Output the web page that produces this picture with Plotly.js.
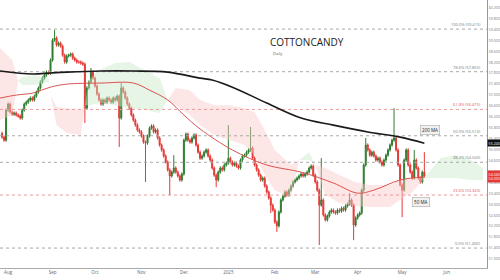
<!DOCTYPE html>
<html>
<head>
<meta charset="utf-8">
<script src="https://cdn.plot.ly/plotly-3.0.1.min.js"></script>
<style>html,body{margin:0;padding:0;background:#fff}#chart{width:500px;height:280px}</style>
</head>
<body>
<div id="chart"></div>
<script>
// ---- data ----
const firstOpen = 55.60;
const closes = [55.46,55.35,56.45,56.67,56.38,56.30,56.34,56.27,56.23,56.16,
56.45,56.67,56.74,56.82,56.89,56.82,56.96,57.11,57.26,57.48,
57.62,57.73,57.84,57.80,58.28,59.01,59.09,58.83,58.90,58.79,
58.46,58.21,58.43,58.46,58.50,58.35,58.28,58.21,58.21,58.17,
58.13,56.52,57.26,57.48,57.84,57.62,57.33,57.04,56.82,56.67,
56.82,56.74,56.89,56.82,56.74,56.89,56.82,56.96,56.16,57.26,
57.11,56.89,56.67,56.52,56.27,56.08,55.90,55.72,55.65,55.50,
55.28,55.24,55.50,55.79,55.87,55.65,55.72,55.43,55.17,54.99,
54.77,54.55,54.26,54.04,54.18,54.33,54.18,54.04,53.89,54.11,
55.35,55.57,55.35,55.28,55.43,55.54,55.17,54.91,54.69,54.77,
54.91,54.99,54.77,54.62,54.33,54.07,53.89,54.18,54.33,54.26,
54.44,54.51,54.69,54.55,54.44,54.51,54.40,54.33,54.62,54.77,
54.80,54.91,54.99,55.06,54.69,54.44,54.26,54.07,53.89,53.96,
53.67,53.45,53.23,52.97,52.79,52.35,52.21,52.72,53.16,53.30,
53.45,53.34,53.52,53.67,53.82,53.89,53.96,54.04,54.11,54.04,
54.11,54.18,54.33,54.40,54.07,53.82,53.52,52.97,53.16,52.61,
52.43,52.57,52.72,52.79,52.72,52.68,52.79,52.75,52.86,52.79,
52.94,53.01,53.16,52.97,52.24,52.50,52.61,52.68,53.52,54.44,
55.17,54.99,54.80,54.91,54.77,54.62,54.69,54.55,54.44,54.62,
54.80,54.99,55.17,55.35,55.43,54.99,54.44,53.71,53.52,54.62,
54.99,54.44,54.18,53.96,54.62,54.33,53.96,53.82,54.18,54.04];

const spikeHighIdx = [26,44,59,85,112,123,158,172,180,194,204,209];
const spikeHighVal = [59.38,57.99,57.44,54.80,55.90,55.83,54.69,53.41,55.43,56.52,54.99,54.91];
const spikeLowIdx = [41,58,71,83,106,133,136,157,174,198];
const spikeLowVal = [55.98,55.10,53.82,53.34,53.63,52.68,51.99,51.51,51.69,52.53];

const ma200Idx = [-1,15,24,32,49,65,82,98,104,114,131,148,164,181,197,209];
const ma200Val = [57.88,57.77,57.81,57.84,57.88,57.88,57.84,57.62,57.55,57.29,56.71,56.16,55.90,55.65,55.46,55.24];
const ma50Idx = [-1,7,15,24,32,49,65,73,82,90,98,114,131,148,164,176,184,197,209];
const ma50Val = [56.89,57.00,57.07,57.29,57.40,57.44,57.44,57.18,56.82,56.27,55.76,54.99,54.44,54.18,53.78,53.41,53.52,53.89,54.00];

const cloudIdx  = [-1,5,8,10,16,23,24,27,32,39,41,43,48,56,63,71,78,82,86,93,98,105,113,120,125,130,135,143,147,152,155,160,167,175,182,192,197,203,209,217,224,232,238];
const cloudTop  = [58.72,58.28,57.52,57.66,57.73,57.62,57.00,56.56,56.52,56.45,56.63,57.55,57.91,58.17,58.21,57.91,57.62,56.82,57.26,57.18,56.82,56.63,56.63,56.52,56.38,55.72,54.99,54.44,54.62,54.91,54.44,54.33,54.07,53.81,53.71,53.71,53.89,53.96,53.96,54.69,54.80,54.62,54.33];
const cloudBot  = [56.08,56.27,57.52,57.37,57.37,57.48,57.00,55.90,55.61,55.54,56.63,56.63,56.71,56.63,56.52,56.45,56.34,56.82,56.63,56.27,55.90,55.54,55.35,55.17,54.80,54.07,53.52,53.27,54.62,54.62,54.44,53.34,53.05,52.94,52.90,52.90,53.16,53.45,53.96,53.96,53.96,53.89,53.89];
const cloudSide = ['R','R','P','G','G','G','P','R','R','R','P','G','G','G','G','G','G','P','R','R','R','R','R','R','R','R','R','R','P','G','P','R','R','R','R','R','R','R','P','G','G','G','G'];

const fibPct = ['100.0%','78.6%','61.8%','50.0%','38.2%','23.6%','0.0%'];
const fibVal = [59.415,57.855,56.475,55.510,54.540,53.340,51.400];
const fibHot = [false,false,true,false,false,true,false];

const monthLabels = ['Aug','Sep','Oct','Nov','Dec','2025','Feb','Mar','Apr','May','Jun'];
const monthTicks = ['2024-08-01','2024-09-02','2024-10-01','2024-11-01','2024-12-02','2025-01-01','2025-02-03','2025-03-03','2025-04-01','2025-05-01','2025-06-02'];

const lastPrice = 54.04, lastMA50 = 54.00, lastMA200 = 55.24;

// ---- helpers ----
function tdate(i){
  const d = new Date(Date.UTC(2024,6,29));
  const step = i >= 0 ? 1 : -1;
  let n = Math.abs(i);
  while(n > 0){
    d.setUTCDate(d.getUTCDate()+step);
    const w = d.getUTCDay();
    if(w !== 0 && w !== 6) n--;
  }
  return d.toISOString().slice(0,10);
}

const dates = closes.map((_,i)=>tdate(i));
const opens = closes.map((c,i)=> i===0 ? firstOpen : closes[i-1]);
const wick = 0.06;
const highs = closes.map((c,i)=> Math.max(c,opens[i]) + wick);
const lows  = closes.map((c,i)=> Math.min(c,opens[i]) - wick);
spikeHighIdx.forEach((k,j)=>{ highs[k] = spikeHighVal[j]; });
spikeLowIdx.forEach((k,j)=>{ lows[k] = spikeLowVal[j]; });

const traces = [];

// cloud polygons
const segColor = k => cloudSide[k] !== 'P' ? cloudSide[k] : cloudSide[k+1];
let k = 0;
while(k < cloudIdx.length-1){
  const col = segColor(k);
  let e = k;
  while(e < cloudIdx.length-1 && segColor(e) === col) e++;
  const xs = [], ys = [];
  for(let j=k;j<=e;j++){ xs.push(tdate(cloudIdx[j])); ys.push(cloudTop[j]); }
  for(let j=e;j>=k;j--){ xs.push(tdate(cloudIdx[j])); ys.push(cloudBot[j]); }
  traces.push({type:'scatter',mode:'lines',x:xs,y:ys,fill:'toself',
    fillcolor: col==='G' ? 'rgba(200,232,200,0.45)' : 'rgba(248,200,200,0.45)',
    line:{width:0},hoverinfo:'skip'});
  k = e;
}

// fib lines
const xStart = '2024-07-26', xEnd = '2025-06-30';
fibVal.forEach((v,i)=>{
  traces.push({type:'scatter',mode:'lines',x:[xStart,xEnd],y:[v,v],
    line:{color: fibHot[i] ? '#e89a9a' : '#a8a8a8', width:1, dash:'dot'},hoverinfo:'skip'});
});

// candles
traces.push({type:'candlestick',x:dates,open:opens,high:highs,low:lows,close:closes,
  increasing:{line:{color:'#2f7d32',width:1},fillcolor:'#2f7d32'},
  decreasing:{line:{color:'#e53935',width:1},fillcolor:'#e53935'},
  whiskerwidth:0, hoverinfo:'skip'});

// moving averages
traces.push({type:'scatter',mode:'lines',x:ma50Idx.map(tdate),y:ma50Val,
  line:{color:'#d9534f',width:1,shape:'spline'},hoverinfo:'skip'});
traces.push({type:'scatter',mode:'lines',x:ma200Idx.map(tdate),y:ma200Val,
  line:{color:'#1a1a1a',width:1.6,shape:'spline'},hoverinfo:'skip'});

const ann = [];
fibVal.forEach((v,i)=>{
  ann.push({xref:'paper',yref:'y',x:0.992,y:v,xanchor:'right',yanchor:'bottom',
    text: fibPct[i]+' ('+v.toFixed(3)+')', showarrow:false,
    font:{size:4,color: fibHot[i] ? '#e05555' : '#777'}});
});
ann.push({xref:'paper',yref:'paper',x:0.550,y:0.843,xanchor:'left',yanchor:'middle',
  text:'COTTONCANDY',showarrow:false,font:{size:10,color:'#222',family:'Open Sans'}});
ann.push({xref:'paper',yref:'paper',x:0.556,y:0.802,xanchor:'left',yanchor:'middle',
  text:'Daily',showarrow:false,font:{size:4,color:'#555'}});
ann.push({xref:'paper',yref:'paper',x:0.883,y:0.515,xanchor:'center',yanchor:'middle',
  text:'200 MA',showarrow:false,font:{size:4.5,color:'#222'},
  bgcolor:'#f1f1f1',bordercolor:'#aaa',borderwidth:0.6,borderpad:1.5});
ann.push({xref:'paper',yref:'paper',x:0.864,y:0.246,xanchor:'center',yanchor:'middle',
  text:'50 MA',showarrow:false,font:{size:4.5,color:'#222'},
  bgcolor:'#f1f1f1',bordercolor:'#aaa',borderwidth:0.6,borderpad:1.5});
ann.push({xref:'paper',yref:'y',x:1.0,y:lastMA200,xanchor:'left',yanchor:'middle',
  text:lastMA200.toFixed(3),showarrow:false,font:{size:3.6,color:'#fff'},
  bgcolor:'#111',borderpad:0.6});
ann.push({xref:'paper',yref:'y',x:1.0,y:(lastPrice+lastMA50)/2,xanchor:'left',yanchor:'middle',
  text:lastPrice.toFixed(3)+'<br>'+lastMA50.toFixed(3),showarrow:false,font:{size:3.6,color:'#fff'},
  bgcolor:'#e53935',borderpad:0.6});

const layout = {
  width:500,height:280,
  margin:{l:0,r:13,t:0,b:12,pad:0},
  paper_bgcolor:'#fff',plot_bgcolor:'#fff',
  showlegend:false,
  font:{family:'Open Sans',size:5,color:'#666'},
  xaxis:{type:'date',range:[xStart,xEnd],rangeslider:{visible:false},
    rangebreaks:[{bounds:['sat','mon']}],
    tickvals:monthTicks,ticktext:monthLabels,tickfont:{size:4.5,color:'#666'},
    showgrid:false,zeroline:false,showline:true,linecolor:'#aaa',linewidth:1,ticks:''},
  yaxis:{side:'right',range:[50.67,60.48],tick0:51.4,dtick:0.4,tickformat:'.3f',
    tickfont:{size:3.6,color:'#777'},showgrid:false,zeroline:false,
    showline:true,linecolor:'#999',linewidth:1,ticks:'',ticklabelstandoff:0},
  annotations:ann
};

Plotly.newPlot('chart',traces,layout,{staticPlot:true,displayModeBar:false});
</script>
</body>
</html>
